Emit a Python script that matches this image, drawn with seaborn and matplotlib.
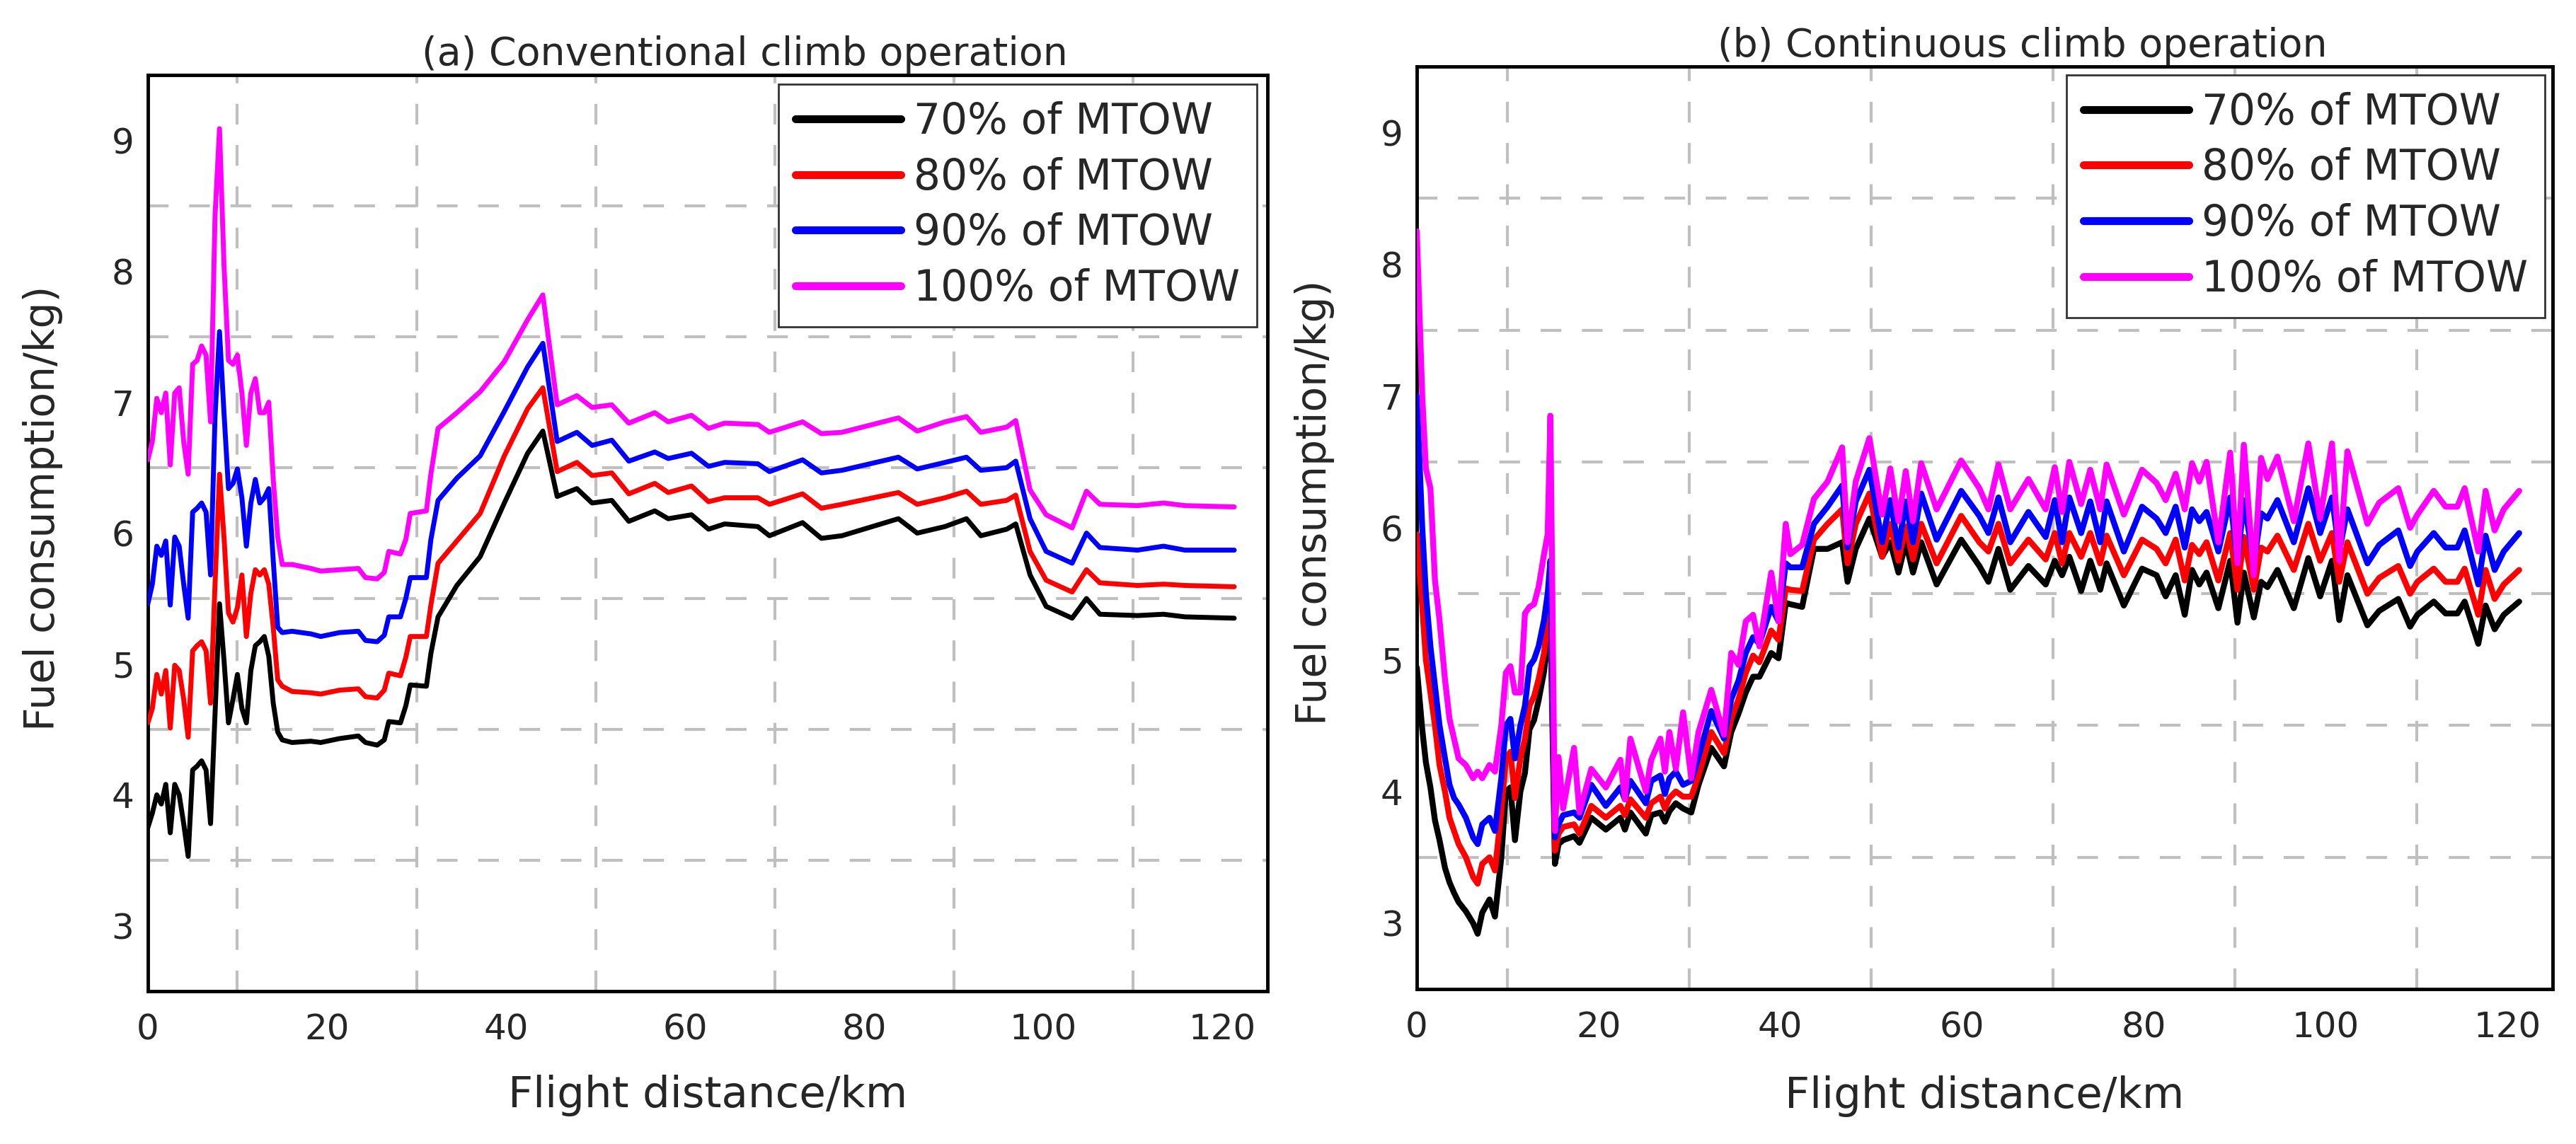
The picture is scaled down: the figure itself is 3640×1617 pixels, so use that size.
import matplotlib
matplotlib.use("Agg")
import matplotlib.pyplot as plt
from matplotlib.ticker import FixedLocator
import pandas as pd
import seaborn as sns

# ---------------- data ----------------
weights = ["70% of MTOW", "80% of MTOW", "90% of MTOW", "100% of MTOW"]
line_colors = ["#000000", "#FF0000", "#0000FF", "#FF00FF"]

# (a) Conventional climb operation
dist_a = [0, 0.5, 1, 1.5, 2, 2.5, 3, 3.5, 4, 4.5, 5, 5.5, 6, 6.5, 7, 7.5, 8, 8.5, 9, 9.5,
          10, 10.5, 11, 11.5, 12, 12.5, 13, 13.5, 14, 14.5, 15,
          16.1, 18.2, 19.3, 21.4, 23.5, 24.3, 25.6, 26.4, 26.9, 28.2, 28.8, 29.3, 31.1, 31.6,
          32.4, 34.5, 37.1, 39.8, 42.4, 44.1, 45.7, 47.9, 49.6,
          51.8, 53.7, 56.6, 58.1, 60.7, 62.6, 64.4, 68.1, 69.4, 73.1, 75.2, 77.5, 83.8, 85.9,
          89.0, 91.4, 93.0, 95.9, 96.9, 98.5, 100.3, 103.2, 104.8, 106.3, 110.5, 113.4, 115.8, 121.3]

fuel_a_70 = [3.75, 3.86, 4.00, 3.93, 4.08, 3.71, 4.08, 4.00, 3.78, 3.53, 4.19, 4.22, 4.26, 4.19, 3.78,
             4.62, 5.46, 5.03, 4.55, 4.73, 4.92, 4.66, 4.55, 4.95, 5.14, 5.17, 5.21, 5.06, 4.70, 4.48, 4.42,
             4.40, 4.41, 4.40, 4.43, 4.45, 4.40, 4.38, 4.42, 4.56, 4.55, 4.68, 4.84, 4.83, 5.08,
             5.36, 5.60, 5.82, 6.23, 6.61, 6.78, 6.28, 6.34, 6.23,
             6.25, 6.09, 6.17, 6.11, 6.14, 6.03, 6.07, 6.05, 5.98, 6.08, 5.96, 5.98, 6.11, 6.00,
             6.05, 6.11, 5.98, 6.03, 6.07, 5.68, 5.44, 5.35, 5.50, 5.38, 5.37, 5.38, 5.36, 5.35]
fuel_a_80 = [4.55, 4.66, 4.92, 4.77, 4.95, 4.51, 4.99, 4.95, 4.73, 4.44, 5.10, 5.14, 5.17, 5.10, 4.70,
             5.61, 6.45, 5.97, 5.39, 5.32, 5.43, 5.68, 5.21, 5.54, 5.72, 5.68, 5.72, 5.61, 5.28, 4.88, 4.83,
             4.79, 4.78, 4.77, 4.80, 4.81, 4.75, 4.74, 4.80, 4.93, 4.91, 5.05, 5.21, 5.21, 5.45,
             5.77, 5.94, 6.15, 6.59, 6.95, 7.11, 6.47, 6.54, 6.44,
             6.46, 6.30, 6.38, 6.31, 6.36, 6.24, 6.27, 6.27, 6.22, 6.30, 6.19, 6.22, 6.31, 6.22,
             6.27, 6.32, 6.22, 6.25, 6.29, 5.86, 5.64, 5.55, 5.72, 5.62, 5.60, 5.61, 5.60, 5.59]
fuel_a_90 = [5.46, 5.61, 5.90, 5.83, 5.94, 5.45, 5.97, 5.90, 5.61, 5.35, 6.16, 6.19, 6.23, 6.16, 5.68,
             6.89, 7.54, 6.92, 6.34, 6.38, 6.49, 6.27, 5.90, 6.23, 6.41, 6.23, 6.27, 6.34, 5.79, 5.28, 5.24,
             5.25, 5.23, 5.21, 5.24, 5.25, 5.18, 5.17, 5.22, 5.36, 5.36, 5.50, 5.66, 5.66, 5.95,
             6.25, 6.42, 6.59, 6.93, 7.27, 7.45, 6.70, 6.77, 6.67,
             6.71, 6.55, 6.62, 6.57, 6.61, 6.51, 6.54, 6.53, 6.47, 6.56, 6.46, 6.48, 6.58, 6.49,
             6.54, 6.58, 6.48, 6.50, 6.55, 6.11, 5.86, 5.77, 6.00, 5.89, 5.87, 5.90, 5.87, 5.87]
fuel_a_100 = [6.56, 6.70, 7.03, 6.92, 7.07, 6.52, 7.07, 7.11, 6.70, 6.45, 7.29, 7.32, 7.43, 7.36, 6.85,
              8.42, 9.09, 8.05, 7.32, 7.29, 7.36, 7.07, 6.67, 7.07, 7.18, 6.92, 6.92, 7.00, 6.41, 5.97, 5.76,
              5.76, 5.73, 5.71, 5.72, 5.73, 5.66, 5.65, 5.70, 5.86, 5.84, 5.95, 6.15, 6.17, 6.45,
              6.80, 6.92, 7.08, 7.31, 7.63, 7.82, 6.98, 7.05, 6.96,
              6.98, 6.84, 6.92, 6.85, 6.90, 6.80, 6.84, 6.83, 6.77, 6.85, 6.76, 6.77, 6.88, 6.78,
              6.85, 6.89, 6.77, 6.81, 6.86, 6.33, 6.14, 6.04, 6.32, 6.22, 6.21, 6.23, 6.21, 6.20]

# (b) Continuous climb operation
dist_b = [0, 0.6, 1.0, 1.5, 2.0, 2.5, 3.1, 3.6, 4.1, 4.6, 5.4, 6.2, 6.7, 7.2, 8.0, 8.6, 9.3, 9.8,
          10.3, 10.8, 11.4, 11.9, 12.4, 12.9, 13.4, 14.0, 14.4, 14.7, 15.2,
          15.6, 16.1, 17.3, 17.9, 19.2, 20.8, 22.4, 22.9, 23.5, 25.2, 25.8, 26.8, 27.3, 27.8, 28.5,
          29.3, 30.2, 31.0, 32.4, 33.8, 34.6, 35.4, 36.2, 37.0, 37.7, 39.0, 39.8, 40.6, 41.1, 42.4, 43.7,
          45.2, 46.8, 47.4, 48.3, 49.8, 51.2, 52.1, 53.0, 53.8, 54.6, 55.5, 57.2, 59.9, 61.9, 62.9,
          64.0, 65.3, 67.3, 69.2, 70.2, 71.0, 71.8, 73.1, 74.1, 75.2, 75.9, 77.8, 79.8, 81.4, 82.4,
          83.5, 84.5, 85.3, 86.1, 86.9, 88.2, 89.5, 90.3, 91.0, 92.1, 92.9, 93.6, 94.7, 96.5, 98.1,
          99.4, 100.7, 101.5, 102.4, 104.6, 105.9, 108.0, 109.3, 110.1, 111.9, 113.2, 114.5, 115.3,
          116.8, 117.6, 118.6, 119.6, 121.3]

fuel_b_70 = [4.94, 4.47, 4.22, 4.03, 3.78, 3.63, 3.42, 3.31, 3.23, 3.16, 3.09, 3.00, 2.92, 3.08, 3.18,
             3.05, 3.50, 4.00, 4.03, 3.63, 4.00, 4.14, 4.47, 4.54, 4.69, 4.91, 5.15, 5.35, 3.45,
             3.60, 3.63, 3.66, 3.61, 3.80, 3.71, 3.80, 3.71, 3.84, 3.68, 3.82, 3.84, 3.77, 3.85, 3.91,
             3.87, 3.84, 4.05, 4.33, 4.19, 4.45, 4.59, 4.75, 4.87, 4.87, 5.05, 5.01, 5.43, 5.42, 5.40, 5.84,
             5.84, 5.89, 5.59, 5.84, 6.07, 5.78, 5.89, 5.66, 5.89, 5.66, 5.89, 5.57, 5.91, 5.71, 5.59,
             5.84, 5.53, 5.71, 5.57, 5.75, 5.64, 5.78, 5.52, 5.75, 5.53, 5.73, 5.41, 5.69, 5.64, 5.48,
             5.64, 5.34, 5.68, 5.57, 5.66, 5.39, 5.75, 5.28, 5.66, 5.32, 5.59, 5.55, 5.68, 5.39, 5.77,
             5.48, 5.75, 5.30, 5.64, 5.26, 5.37, 5.46, 5.25, 5.34, 5.44, 5.35, 5.35, 5.44,
             5.12, 5.41, 5.23, 5.34, 5.44]
fuel_b_80 = [5.95, 5.40, 5.00, 4.75, 4.50, 4.20, 4.00, 3.80, 3.70, 3.60, 3.50, 3.35, 3.30, 3.45, 3.50,
             3.40, 3.85, 4.25, 4.30, 3.95, 4.25, 4.40, 4.65, 4.72, 4.85, 5.05, 5.30, 5.50, 3.55,
             3.68, 3.73, 3.75, 3.68, 3.89, 3.80, 3.89, 3.82, 3.94, 3.80, 3.91, 3.96, 3.87, 3.95, 4.00,
             3.96, 3.96, 4.12, 4.45, 4.29, 4.55, 4.70, 4.90, 5.03, 4.98, 5.22, 5.15, 5.54, 5.53, 5.52, 5.91,
             6.03, 6.14, 5.73, 6.03, 6.26, 5.78, 6.03, 5.75, 6.01, 5.76, 6.03, 5.73, 6.09, 5.89, 5.82,
             6.03, 5.73, 5.91, 5.76, 5.96, 5.73, 5.96, 5.78, 5.96, 5.73, 5.94, 5.64, 5.91, 5.84, 5.73,
             5.91, 5.60, 5.87, 5.80, 5.89, 5.60, 5.96, 5.53, 5.93, 5.53, 5.85, 5.82, 5.94, 5.68, 6.03,
             5.75, 5.96, 5.59, 5.89, 5.50, 5.62, 5.71, 5.50, 5.59, 5.69, 5.59, 5.59, 5.69,
             5.34, 5.68, 5.46, 5.57, 5.68]
fuel_b_90 = [7.00, 6.00, 5.50, 5.10, 4.80, 4.50, 4.25, 4.05, 3.95, 3.90, 3.80, 3.65, 3.60, 3.75, 3.80,
             3.70, 4.10, 4.50, 4.55, 4.25, 4.50, 4.65, 4.95, 5.00, 5.10, 5.30, 5.50, 5.75, 3.65,
             3.75, 3.82, 3.84, 3.80, 4.05, 3.89, 4.03, 3.94, 4.08, 3.91, 4.08, 4.12, 3.98, 4.10, 4.15,
             4.05, 4.08, 4.26, 4.61, 4.40, 4.70, 4.84, 5.05, 5.17, 5.12, 5.40, 5.29, 5.73, 5.70, 5.70, 6.03,
             6.16, 6.32, 5.85, 6.20, 6.44, 5.89, 6.21, 5.85, 6.20, 5.89, 6.26, 5.91, 6.28, 6.09, 5.96,
             6.23, 5.89, 6.12, 5.93, 6.21, 5.89, 6.23, 5.96, 6.20, 5.89, 6.20, 5.82, 6.16, 6.07, 5.96,
             6.16, 5.85, 6.14, 6.05, 6.12, 5.82, 6.23, 5.73, 6.21, 5.73, 6.11, 6.07, 6.21, 5.89, 6.30,
             5.96, 6.23, 5.82, 6.14, 5.73, 5.87, 5.98, 5.71, 5.82, 5.96, 5.85, 5.85, 5.98,
             5.57, 5.94, 5.68, 5.82, 5.96]
fuel_b_100 = [8.25, 7.00, 6.45, 6.30, 5.60, 5.30, 4.85, 4.55, 4.40, 4.25, 4.20, 4.10, 4.15, 4.10, 4.20,
              4.15, 4.50, 4.90, 4.95, 4.75, 4.75, 5.35, 5.40, 5.42, 5.55, 5.80, 5.95, 6.85, 3.70,
              4.26, 3.87, 4.33, 3.84, 4.17, 4.03, 4.24, 3.94, 4.40, 4.00, 4.24, 4.40, 4.15, 4.45, 4.17,
              4.60, 4.10, 4.45, 4.77, 4.43, 5.05, 4.96, 5.29, 5.34, 5.10, 5.66, 5.29, 6.03, 5.80, 5.87, 6.22,
              6.35, 6.61, 5.89, 6.35, 6.68, 6.10, 6.45, 6.05, 6.43, 6.05, 6.49, 6.14, 6.51, 6.30, 6.14,
              6.48, 6.14, 6.37, 6.14, 6.46, 6.12, 6.50, 6.18, 6.44, 6.14, 6.48, 6.10, 6.44, 6.34, 6.21,
              6.41, 6.14, 6.49, 6.35, 6.50, 5.89, 6.57, 5.73, 6.63, 5.64, 6.53, 6.37, 6.54, 6.05, 6.64,
              6.07, 6.64, 5.75, 6.58, 6.03, 6.19, 6.30, 6.00, 6.10, 6.28, 6.16, 6.16, 6.30,
              5.82, 6.28, 5.98, 6.14, 6.28]

x_major = [0, 20, 40, 60, 80, 100, 120]
x_minor = [10, 30, 50, 70, 90, 110]
y_major = [3, 4, 5, 6, 7, 8, 9]
y_minor = [3.5, 4.5, 5.5, 6.5, 7.5, 8.5]

# ---------------- style ----------------
sns.set_style("white")
plt.rcParams["font.family"] = ["DejaVu Sans"]

fig = plt.figure(figsize=(36.4, 16.17), dpi=100)
axL = fig.add_axes([0.0574, 0.1336, 0.4346, 0.8008])
axR = fig.add_axes([0.5500, 0.1354, 0.4410, 0.8065])


def draw_panel(ax, dist, series, title, lw, leg_anchor, xlab_y, ylab_x):
    frames = []
    for name, vals in zip(weights, series):
        frames.append(pd.DataFrame({"Flight distance": dist, "Fuel": vals, "Weight": name}))
    df = pd.concat(frames, ignore_index=True)
    sns.lineplot(data=df, x="Flight distance", y="Fuel", hue="Weight",
                 hue_order=weights, palette=line_colors, estimator=None,
                 sort=False, linewidth=lw, ax=ax, zorder=3)

    ax.set_xlim(0, 125)
    ax.set_ylim(2.5, 9.5)
    ax.xaxis.set_major_locator(FixedLocator(x_major))
    ax.xaxis.set_minor_locator(FixedLocator(x_minor))
    ax.yaxis.set_major_locator(FixedLocator(y_major))
    ax.yaxis.set_minor_locator(FixedLocator(y_minor))
    ax.set_xticklabels([str(v) for v in x_major])
    ax.set_yticklabels([str(v) for v in y_major])

    ax.grid(False, which="major")
    ax.grid(True, which="minor", color="#bfbfbf", linestyle=(0, (7, 7)), linewidth=3)
    ax.set_axisbelow(True)

    ax.tick_params(which="both", direction="in", top=False, right=False,
                   color="black", width=2.4, labelsize=36)
    ax.tick_params(axis="x", which="both", pad=22)
    ax.tick_params(axis="y", which="both", pad=14)
    ax.tick_params(which="major", length=20)
    ax.tick_params(which="minor", length=11)
    for sp in ax.spines.values():
        sp.set_visible(True)
        sp.set_linewidth(3.5)
        sp.set_color("black")

    ax.set_title(title, fontsize=40, x=0.533, pad=10)
    ax.set_xlabel("Flight distance/km", fontsize=44, va="center")
    ax.xaxis.set_label_coords(0.5, xlab_y)
    ax.set_ylabel("Fuel consumption/kg)", fontsize=42, va="center")
    ax.yaxis.set_label_coords(ylab_x, 0.527)

    leg = ax.legend(loc="upper right", bbox_to_anchor=leg_anchor, borderaxespad=0,
                    fontsize=43, frameon=True, fancybox=False, framealpha=1,
                    edgecolor="#333333", handlelength=2.5, handletextpad=0.3,
                    labelspacing=0.33, borderpad=0.4)
    leg.get_frame().set_linewidth(2)
    for ln in leg.get_lines():
        ln.set_linewidth(8)


draw_panel(axL, dist_a, [fuel_a_70, fuel_a_80, fuel_a_90, fuel_a_100],
           "(a) Conventional climb operation", 5.0, (0.9905, 0.990), -0.114, -0.094)
draw_panel(axR, dist_b, [fuel_b_70, fuel_b_80, fuel_b_90, fuel_b_100],
           "(b) Continuous climb operation", 6.0, (0.993, 0.991), -0.116, -0.090)

fig.savefig("out.png", dpi=100, facecolor="white")
